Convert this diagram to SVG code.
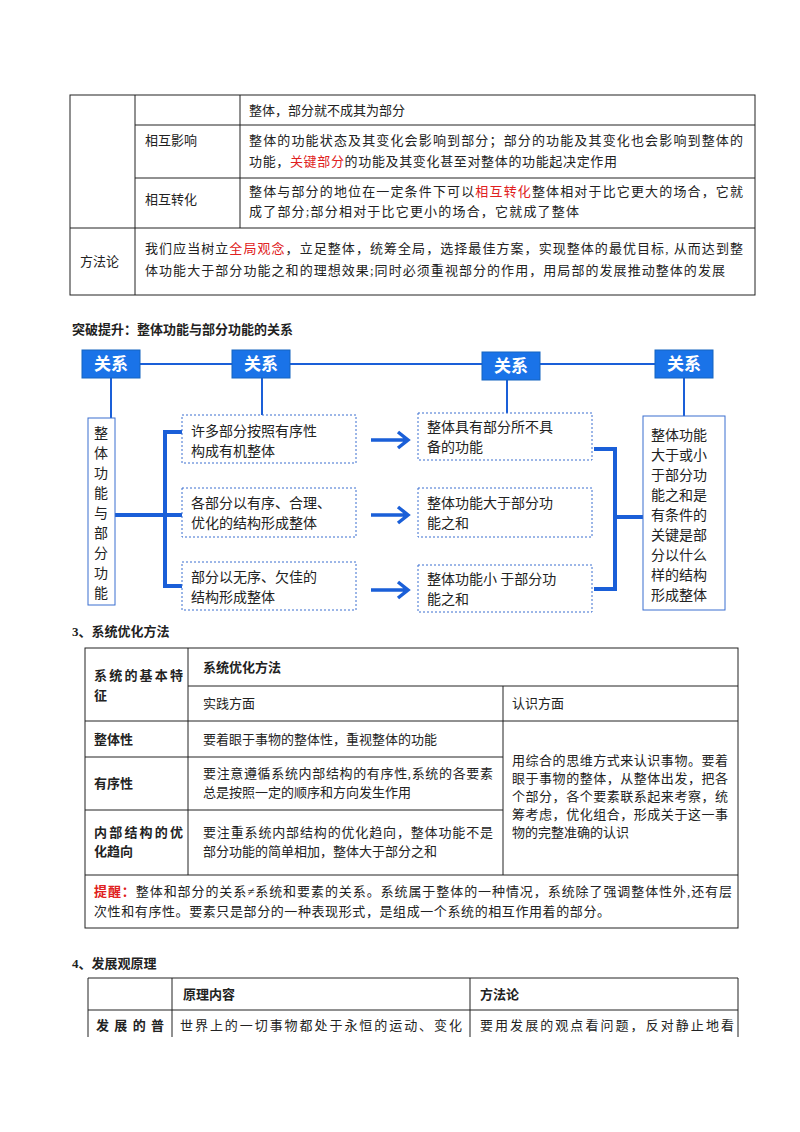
<svg xmlns="http://www.w3.org/2000/svg" width="800" height="1132" viewBox="0 0 800 1132">
<style>
text{font-family:"Liberation Serif","Noto Sans CJK SC",serif;font-size:13px;fill:#222}
.b{font-weight:bold}
.r{fill:#e02020}
.t{stroke:#222;stroke-width:1;fill:none}
.rel{fill:#1a73e8;stroke:#1565c0}
.relt{font-family:"Noto Sans CJK SC",sans-serif;font-size:17px;fill:#fff;font-weight:bold}
.bl{stroke:#1a5fd8;fill:none}
.dash{fill:#fff;stroke:#3a6fd0;stroke-dasharray:2 2;stroke-width:1}
.dt{font-family:"Noto Sans CJK SC",sans-serif;font-size:14px;fill:#222}
</style>
<rect width="800" height="1132" fill="#fff"/>
<g id="table1">
<rect class="t" x="70" y="95" width="685" height="200"/>
<line class="t" x1="135" y1="95" x2="135" y2="295"/>
<line class="t" x1="240" y1="95" x2="240" y2="228"/>
<line class="t" x1="135" y1="125" x2="755" y2="125"/>
<line class="t" x1="135" y1="178" x2="755" y2="178"/>
<line class="t" x1="70" y1="228" x2="755" y2="228"/>
<text x="249" y="115">整体，部分就不成其为部分</text>
<text x="145" y="145">相互影响</text>
<text x="249" y="145" textLength="494">整体的功能状态及其变化会影响到部分；部分的功能及其变化也会影响到整体的</text>
<text x="249" y="166" textLength="368">功能，<tspan class="r">关键部分</tspan>的功能及其变化甚至对整体的功能起决定作用</text>
<text x="145" y="204">相互转化</text>
<text x="249" y="196" textLength="494">整体与部分的地位在一定条件下可以<tspan class="r">相互转化</tspan>整体相对于比它更大的场合，它就</text>
<text x="249" y="216" textLength="330">成了部分;部分相对于比它更小的场合，它就成了整体</text>
<text x="80" y="266">方法论</text>
<text x="145" y="253" textLength="598">我们应当树立<tspan class="r">全局观念</tspan>，立足整体，统筹全局，选择最佳方案，实现整体的最优目标, 从而达到整</text>
<text x="145" y="275" textLength="580">体功能大于部分功能之和的理想效果;同时必须重视部分的作用，用局部的发展推动整体的发展</text>
</g>
<text class="b" x="72" y="334">突破提升：整体功能与部分功能的关系</text>
<g id="connectors">
<line class="bl" stroke-width="2" x1="140" y1="364" x2="655" y2="364"/>
<line class="bl" stroke-width="2" x1="111" y1="378" x2="111" y2="418"/>
<line class="bl" stroke-width="2" x1="262" y1="378" x2="262" y2="415"/>
<line class="bl" stroke-width="2" x1="507" y1="380" x2="507" y2="413"/>
<line class="bl" stroke-width="2" x1="684" y1="378" x2="684" y2="416"/>
<line class="bl" stroke-width="4" x1="115" y1="515" x2="165" y2="515"/>
<polyline class="bl" stroke-width="4" points="182,432 165,432 165,586 182,586"/>
<line class="bl" stroke-width="4" x1="165" y1="515" x2="182" y2="515"/>
<polyline class="bl" stroke-width="4" points="594,449 615,449 615,589 594,589"/>
<line class="bl" stroke-width="4" x1="615" y1="517" x2="643" y2="517"/>
<g stroke="#1a5fd8" stroke-width="3.5" fill="none">
<path d="M371 440H408M398 432L408 440L398 448"/>
<path d="M371 515H408M398 507L408 515L398 523"/>
<path d="M371 590H408M398 582L408 590L398 598"/>
</g>
</g>
<g id="rel1"><rect class="rel" x="82" y="350" width="58" height="28"/><text class="relt" x="111" y="370" text-anchor="middle">关系</text></g>
<g id="rel2"><rect class="rel" x="232" y="350" width="58" height="28"/><text class="relt" x="261" y="370" text-anchor="middle">关系</text></g>
<g id="rel3"><rect class="rel" x="482" y="352" width="58" height="28"/><text class="relt" x="511" y="372" text-anchor="middle">关系</text></g>
<g id="rel4"><rect class="rel" x="655" y="350" width="58" height="28"/><text class="relt" x="684" y="370" text-anchor="middle">关系</text></g>
<g id="left"><rect x="88" y="418" width="27" height="187" fill="#fff" stroke="#3a6fd0"/>
<text class="dt" x="101" y="438" text-anchor="middle"><tspan x="101">整</tspan><tspan x="101" dy="20">体</tspan><tspan x="101" dy="20">功</tspan><tspan x="101" dy="20">能</tspan><tspan x="101" dy="20">与</tspan><tspan x="101" dy="20">部</tspan><tspan x="101" dy="20">分</tspan><tspan x="101" dy="20">功</tspan><tspan x="101" dy="20">能</tspan></text></g>
<g id="a1"><rect class="dash" x="182" y="415" width="174" height="48"/><text class="dt" x="191" y="436">许多部分按照有序性</text><text class="dt" x="191" y="456">构成有机整体</text></g>
<g id="a2"><rect class="dash" x="182" y="488" width="174" height="49"/><text class="dt" x="191" y="508">各部分以有序、合理、</text><text class="dt" x="191" y="528">优化的结构形成整体</text></g>
<g id="a3"><rect class="dash" x="182" y="562" width="174" height="48"/><text class="dt" x="191" y="582">部分以无序、欠佳的</text><text class="dt" x="191" y="602">结构形成整体</text></g>
<g id="b1"><rect class="dash" x="418" y="413" width="174" height="47"/><text class="dt" x="427" y="432">整体具有部分所不具</text><text class="dt" x="427" y="452">备的功能</text></g>
<g id="b2"><rect class="dash" x="418" y="488" width="174" height="49"/><text class="dt" x="427" y="508">整体功能大于部分功</text><text class="dt" x="427" y="528">能之和</text></g>
<g id="b3"><rect class="dash" x="418" y="565" width="174" height="47"/><text class="dt" x="427" y="584">整体功能小 于部分功</text><text class="dt" x="427" y="604">能之和</text></g>
<g id="right"><rect x="643" y="416" width="82" height="194" fill="#fff" stroke="#3a6fd0"/>
<text class="dt" x="651" y="440"><tspan x="651">整体功能</tspan><tspan x="651" dy="20">大于或小</tspan><tspan x="651" dy="20">于部分功</tspan><tspan x="651" dy="20">能之和是</tspan><tspan x="651" dy="20">有条件的</tspan><tspan x="651" dy="20">关键是部</tspan><tspan x="651" dy="20">分以什么</tspan><tspan x="651" dy="20">样的结构</tspan><tspan x="651" dy="20">形成整体</tspan></text></g>
<text class="b" x="72" y="636">3、系统优化方法</text>
<g id="table3">
<rect class="t" x="85" y="648" width="653" height="280"/>
<line class="t" x1="188" y1="648" x2="188" y2="875"/>
<line class="t" x1="503" y1="686" x2="503" y2="875"/>
<line class="t" x1="188" y1="686" x2="738" y2="686"/>
<line class="t" x1="85" y1="721" x2="738" y2="721"/>
<line class="t" x1="85" y1="757" x2="503" y2="757"/>
<line class="t" x1="85" y1="810" x2="503" y2="810"/>
<line class="t" x1="85" y1="875" x2="738" y2="875"/>
<text class="b" x="94" y="680" textLength="89">系统的基本特</text><text class="b" x="94" y="700">征</text>
<text class="b" x="203" y="672">系统优化方法</text>
<text x="203" y="708">实践方面</text>
<text x="512" y="708">认识方面</text>
<text class="b" x="94" y="744">整体性</text>
<text x="203" y="744">要着眼于事物的整体性，重视整体的功能</text>
<text class="b" x="94" y="788">有序性</text>
<text x="203" y="778" textLength="290">要注意遵循系统内部结构的有序性,系统的各要素</text>
<text x="203" y="797">总是按照一定的顺序和方向发生作用</text>
<text class="b" x="94" y="837" textLength="89">内部结构的优</text><text class="b" x="94" y="856">化趋向</text>
<text x="203" y="837" textLength="290">要注重系统内部结构的优化趋向，整体功能不是</text>
<text x="203" y="856">部分功能的简单相加，整体大于部分之和</text>
<text x="512" y="765" textLength="216">用综合的思维方式来认识事物。要着</text>
<text x="512" y="783" textLength="216">眼于事物的整体，从整体出发，把各</text>
<text x="512" y="801" textLength="216">个部分，各个要素联系起来考察，统</text>
<text x="512" y="819" textLength="216">筹考虑，优化组合，形成关于这一事</text>
<text x="512" y="837">物的完整准确的认识</text>
<text x="94" y="896" textLength="638"><tspan class="r b">提醒：</tspan>整体和部分的关系≠系统和要素的关系。系统属于整体的一种情况，系统除了强调整体性外,还有层</text>
<text x="94" y="916" textLength="516">次性和有序性。要素只是部分的一种表现形式，是组成一个系统的相互作用着的部分。</text>
</g>
<text class="b" x="72" y="968">4、发展观原理</text>
<g id="table4">
<polyline class="t" points="88,1037 88,978 738,978 738,1037"/>
<line class="t" x1="172" y1="978" x2="172" y2="1037"/>
<line class="t" x1="470" y1="978" x2="470" y2="1037"/>
<line class="t" x1="88" y1="1010" x2="738" y2="1010"/>
<text class="b" x="183" y="999">原理内容</text>
<text class="b" x="480" y="999">方法论</text>
<text class="b" x="96" y="1030" textLength="68">发展的普</text>
<text x="180" y="1030" textLength="282">世界上的一切事物都处于永恒的运动、变化</text>
<text x="480" y="1030" textLength="254">要用发展的观点看问题，反对静止地看</text>
</g>
</svg>
